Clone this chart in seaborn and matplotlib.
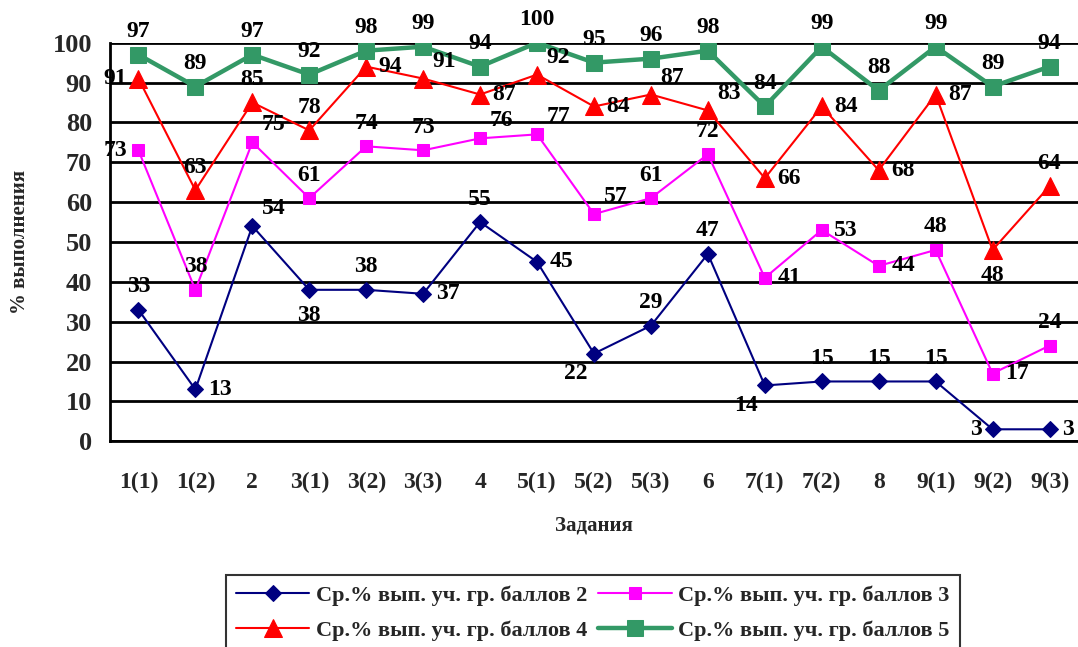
import numpy as np
import pandas as pd
import matplotlib
matplotlib.use("Agg")
import matplotlib.pyplot as plt
import seaborn as sns

# Данные
zadaniya = ["1(1)", "1(2)", "2", "3(1)", "3(2)", "3(3)", "4", "5(1)", "5(2)",
            "5(3)", "6", "7(1)", "7(2)", "8", "9(1)", "9(2)", "9(3)"]
ball_2 = [33, 13, 54, 38, 38, 37, 55, 45, 22, 29, 47, 14, 15, 15, 15, 3, 3]
ball_3 = [73, 38, 75, 61, 74, 73, 76, 77, 57, 61, 72, 41, 53, 44, 48, 17, 24]
ball_4 = [91, 63, 85, 78, 94, 91, 87, 92, 84, 87, 83, 66, 84, 68, 87, 48, 64]
ball_5 = [97, 89, 97, 92, 98, 99, 94, 100, 95, 96, 98, 84, 99, 88, 99, 89, 94]
nazvaniya = ["Ср.% вып. уч. гр. баллов 2", "Ср.% вып. уч. гр. баллов 3",
             "Ср.% вып. уч. гр. баллов 4", "Ср.% вып. уч. гр. баллов 5"]

# где ставить подпись: a - сверху, b - снизу, r - справа, l - слева, ar - сверху справа, bl - снизу слева
pos_2 = ["a", "r", "ar", "b", "a", "r", "a", "r", "bl", "a", "a", "bl", "a", "a", "a", "l", "r"]
pos_3 = ["l", "a", "ar", "a", "a", "a", "ar", "ar", "ar", "a", "a", "r", "r", "r", "a", "r", "a"]
pos_4 = ["l", "a", "a", "a", "r", "ar", "r", "ar", "r", "ar", "ar", "r", "r", "r", "r", "b", "a"]
pos_5 = ["a"] * 17

sns.set_style("white")
plt.rcParams['font.family'] = ['Liberation Serif', 'DejaVu Serif']
plt.rcParams['font.weight'] = 'bold'

fig = plt.figure(figsize=(10.78, 6.47), dpi=100)
ax = fig.add_axes([0.102, 0.318, 0.898, 0.616])

x = np.arange(len(zadaniya))
series = [
    (ball_2, pos_2, "#000080", "D", 8, 1.5),
    (ball_3, pos_3, "#FF00FF", "s", 9, 1.5),
    (ball_4, pos_4, "#FF0000", "^", 13, 1.5),
    (ball_5, pos_5, "#339966", "s", 12, 3.2),
]
offs = {"a": (0, 9, "center", "bottom"), "b": (0, -11, "center", "top"),
        "r": (9, 0, "left", "center"), "l": (-8, 0, "right", "center"),
        "ar": (7, 5, "left", "bottom"), "bl": (-5, -7, "right", "top")}

for (vals, pos, color, mk, ms, lw), name in zip(series, nazvaniya):
    sns.lineplot(x=x, y=vals, ax=ax, color=color, marker=mk, markersize=ms,
                 markeredgecolor=color, linewidth=lw, label=name, sort=False)
    for xi, v, p in zip(x, vals, pos):
        dx, dy, ha, va = offs[p]
        ax.annotate(str(v), (xi, v), xytext=(dx, dy), textcoords="offset points",
                    ha=ha, va=va, fontsize=17, fontweight="bold", color="black")

ax.set_xlim(-0.5, len(zadaniya) - 0.5)
ax.set_ylim(0, 100)
ax.set_yticks(range(0, 101, 10))
ax.set_xticks(x)
ax.set_xticklabels(zadaniya)
ax.set_xticks(np.arange(-0.5, len(zadaniya), 1), minor=True)
ax.tick_params(axis="x", which="major", length=0, pad=22, labelsize=17)
ax.tick_params(axis="x", which="minor", length=8, width=2, color="black", direction="out")
ax.tick_params(axis="y", length=9, width=2, color="black", direction="out", labelsize=19, pad=4)
ax.grid(axis="y", color="black", linewidth=2)
ax.set_axisbelow(True)
for s in ["top", "right"]:
    ax.spines[s].set_visible(False)
for s in ["left", "bottom"]:
    ax.spines[s].set_color("black")
    ax.spines[s].set_linewidth(2)

ax.set_xlabel("Задания", fontsize=15, fontweight="bold", labelpad=16)
ax.set_ylabel("% выполнения", fontsize=15, fontweight="bold", labelpad=16)

ax.get_legend().remove()
h, l = ax.get_legend_handles_labels()
order = [0, 2, 1, 3]
leg = fig.legend([h[i] for i in order], [l[i] for i in order], ncol=2,
                 loc="upper center", bbox_to_anchor=(0.55, 0.128),
                 frameon=True, fancybox=False, edgecolor="black", fontsize=16,
                 handlelength=3.3, columnspacing=0.5, labelspacing=0.65,
                 handletextpad=0.3, borderpad=0.45)
leg.get_frame().set_linewidth(1.5)

fig.savefig("out.png", dpi=100)
